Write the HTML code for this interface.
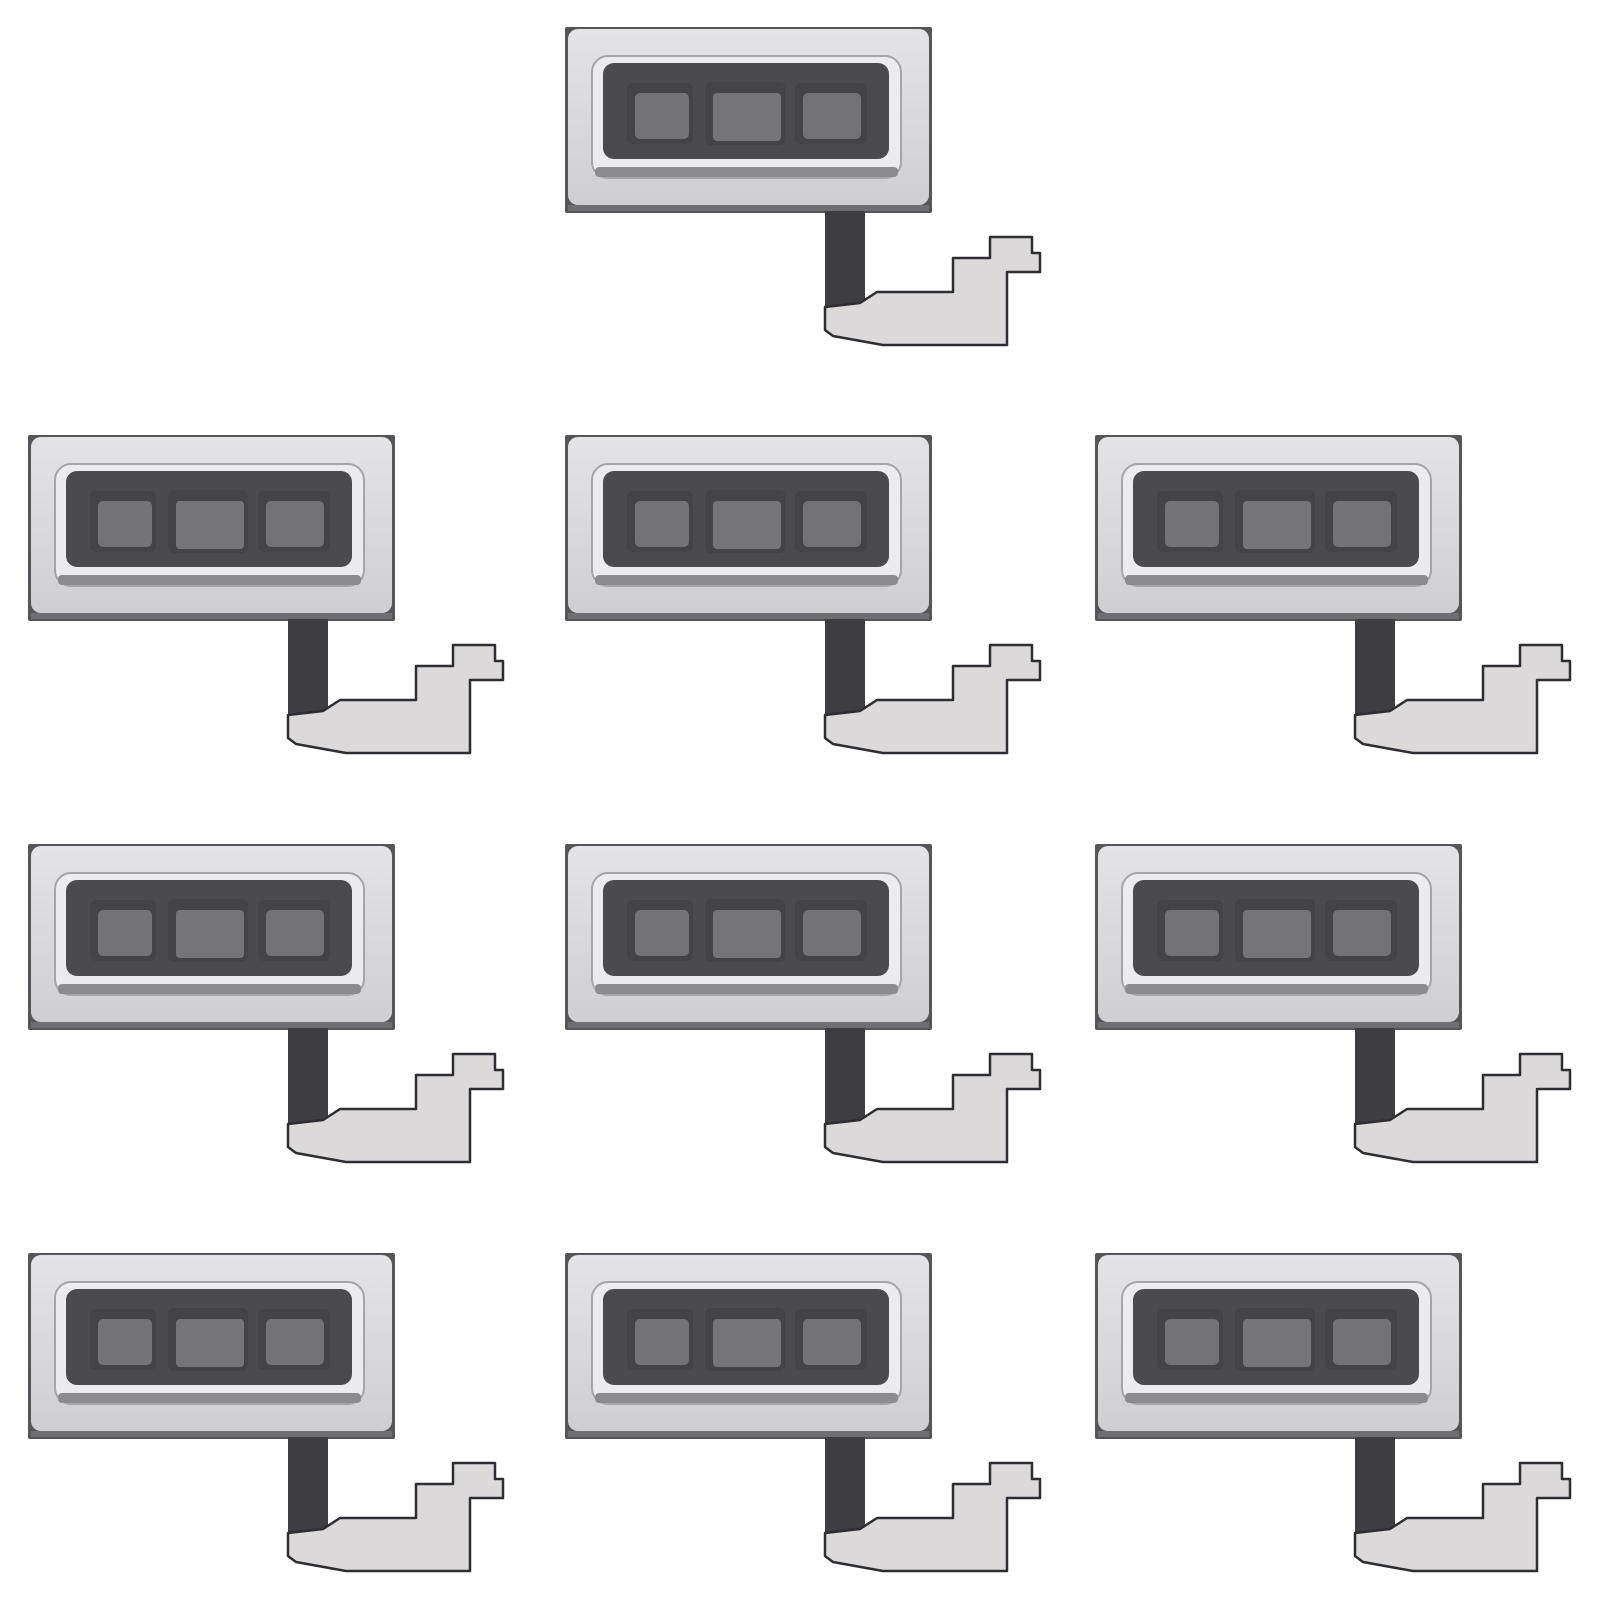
<!DOCTYPE html>
<html><head><meta charset="utf-8"><style>html,body{margin:0;padding:0;background:#fff}svg{display:block}</style></head>
<body>
<svg width="1600" height="1600" viewBox="0 0 1600 1600" xmlns="http://www.w3.org/2000/svg">
<defs>
<linearGradient id="pl" x1="0" y1="0" x2="0" y2="1">
<stop offset="0" stop-color="#e4e4e6"/><stop offset="1" stop-color="#cfcfd2"/></linearGradient>
<g id="u">
<rect x="0" y="0" width="367" height="186" rx="2" fill="#55555a"/>
<rect x="3" y="2" width="361" height="176" rx="10" fill="url(#pl)"/>
<rect x="3" y="178" width="361" height="6" fill="#6e6e73"/>
<rect x="27" y="29" width="309" height="122" rx="16" fill="#ececee" stroke="#a5a5a9" stroke-width="2"/>
<rect x="30" y="140" width="303" height="10" rx="4" fill="#8c8c90"/>
<rect x="38" y="36" width="286" height="96" rx="11" fill="#4a4a4f"/>
<rect x="62" y="56" width="66" height="61" rx="6" fill="#434348"/>
<rect x="70" y="66" width="54" height="46" rx="5" fill="#727277"/>
<rect x="140" y="55" width="80" height="63" rx="6" fill="#434348"/>
<rect x="148" y="66" width="68" height="48" rx="4" fill="#747479"/>
<rect x="230" y="56" width="72" height="61" rx="6" fill="#434348"/>
<rect x="238" y="66" width="58" height="46" rx="5" fill="#727277"/>
<rect x="260" y="184" width="40" height="100" fill="#3d3d42"/>
<path d="M260,280 L260,303 L268,309 L318,318 L442,318 L442,245 L475,245 L475,226 L467,226 L467,210 L425,210 L425,231 L388,231 L388,265 L312,265 L295,276 Z" fill="#dcd9db" stroke="#2e2e32" stroke-width="2.5" stroke-linejoin="round"/>
</g>
</defs>
<use href="#u" x="565" y="27"/>
<use href="#u" x="28" y="435"/>
<use href="#u" x="565" y="435"/>
<use href="#u" x="1095" y="435"/>
<use href="#u" x="28" y="844"/>
<use href="#u" x="565" y="844"/>
<use href="#u" x="1095" y="844"/>
<use href="#u" x="28" y="1253"/>
<use href="#u" x="565" y="1253"/>
<use href="#u" x="1095" y="1253"/>
</svg>
</body></html>
